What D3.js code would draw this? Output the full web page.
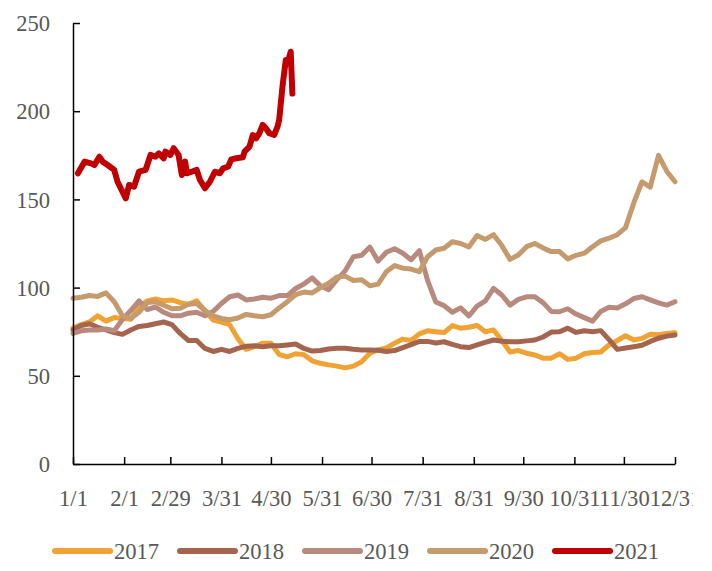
<!DOCTYPE html>
<html>
<head>
<meta charset="utf-8">
<script src="https://cdn.jsdelivr.net/npm/d3@7"></script>
<style>
    body{ margin:0; background:#fff; }
    svg{ display:block; }
</style>
</head>
<body>
<div id="chart"></div>
<script>
//Tick dates on the x axis (leap year so that 2/29 exists)
var tickLabels = ["1/1","2/1","2/29","3/31","4/30","5/31","6/30","7/31","8/31","9/30","10/31","11/30","12/31"];
var yTicks = [0, 50, 100, 150, 200, 250];
var years = ["2017","2018","2019","2020","2021"];
var colors = ["#F0A232","#A5644E","#B88A7E","#C59A6C","#C00000"];

//Older years: one reading every 5 days from 1/1
var gridDays = d3.range(0, 366, 5);

var values2017 = [77,79,80.5,84,81,83,82.5,82,89,92.5,93.5,92.5,93,91.5,90.5,92.5,87,81.6,80.5,79,
    71,65,66.5,68.5,68.5,62,60.8,62.5,62,58.5,57.1,56.2,55.5,54.5,55.5,58,62.8,64.7,65.8,68.5,
    70.8,70,73.8,75.5,75,74.5,78.5,77,77.5,78.5,75,76,70,63.5,64.3,62.8,61.8,60,60,62.5,
    59.3,60,62.5,63.2,63.5,67.5,70,72.7,70.3,71.2,73.5,73.3,74,74.4];

var values2018 = [76,78.5,79.5,77.5,76,74.5,73.5,76,78,78.5,79.5,80.5,79,74,70,70,65.5,63.8,65,63.8,
    65.5,66.8,67,66.5,67,67,67.5,68,65.5,64,64.3,65.2,65.6,65.6,65,64.6,64.6,64.5,63.8,64.3,
    66,67.7,69.5,69.5,68.6,69.3,67.8,66.5,66,67.5,69,70.3,69.6,69.3,69.3,69.8,70.3,72,74.8,75,
    77,74.6,75.5,75,75.6,70.5,65,65.8,66.5,67.3,69.5,71.3,72.5,73.1];

var values2019 = [74,75.5,76,76,76.5,75.5,82,87,92.5,87.5,89,86,84,84,85.5,86,84,86.5,91,94.8,
    95.8,93,93.5,94.5,94,95.5,95.5,99.5,102,105.5,101,98.8,104.5,109.5,117.5,118.3,123,115,120,122,
    119.5,115.8,121,104,91.8,89.8,86,88.5,84,89.5,92.5,99.5,95.8,90.1,93.3,94.8,94.8,91.5,86.5,86.3,
    88,85,83,81,86.5,88.8,88.5,90.8,93.8,94.8,93,91.3,90.1,92];

var values2020 = [94,94.5,95.5,95,97,92,84,82.5,86,91.5,92,90,88,88.3,90.5,91,87,84,82.5,81.8,
    82.8,84.8,84,83.5,84.6,88.5,92,96,97.5,97,100,102.5,106,106.5,104,104.5,101,102,109,112.5,
    111,110.5,109,117.5,121.3,122.3,126,125,123,129.5,127.3,130,123.8,116,118.5,123.2,125,122.5,120.4,120.4,
    116.3,118.3,119.5,123.2,126.5,128,130,134,148,160,157,175,166,160];

//2021 so far: trading day (days after 1/1) and value
var days2021 = [3,7,11,13,16,18,21,25,27,29,32,34,37,40,44,47,50,52,55,56,59,61,64,66,68,69,72,75,77,80,
    83,86,89,91,94,96,99,103,104,107,109,111,113,115,117,119,122,124,125,127,129,130,132,133];
var values2021 = [164.8,171.4,170.4,169.5,174.2,171.4,169.5,166.7,160,156.3,150.6,158.2,157.2,165.7,166.7,175.2,174.2,176.1,173.3,177.1,
    175.2,179,175.2,163.8,171.4,164.8,165.7,166.7,161,156.3,160,165.7,164.8,167.6,168.5,172.7,173.3,173.9,177.1,179.9,
    186.5,184.6,187.5,192.2,190.3,187.5,186.5,191.2,195,213.9,229,227,233.7,210];

var width = 712;
var height = 571;
var plotLeft = 73;
var plotRight = 675;
var plotTop = 23;
var plotBottom = 464;
var fontFamily = "'Liberation Serif', 'Times New Roman', serif";
var fontSize = "24px";
var textColor = "#595959";

function dayToDate( d ){
    return new Date(2020, 0, 1 + d);
}

function labelToDate( s ){
    var p = s.split("/");
    return new Date(2020, +p[0] - 1, +p[1]);
}

//Original font is a narrow serif: squeeze glyphs a little
function narrow( sel ){
    sel.each(function(){
        var w = this.getComputedTextLength();
        d3.select(this)
            .attr("textLength", w * 0.94)
            .attr("lengthAdjust","spacingAndGlyphs");
    });
}

var x = d3.scaleTime()
    .domain([new Date(2020,0,1), new Date(2020,11,31)])
    .range([plotLeft, plotRight]);

var y = d3.scaleLinear()
    .domain([0, 250])
    .range([plotBottom, plotTop]);

var series = [
    { name: years[0], days: gridDays, values: values2017, color: colors[0], width: 5 },
    { name: years[1], days: gridDays, values: values2018, color: colors[1], width: 5 },
    { name: years[2], days: gridDays, values: values2019, color: colors[2], width: 5 },
    { name: years[3], days: gridDays, values: values2020, color: colors[3], width: 5 },
    { name: years[4], days: days2021, values: values2021, color: colors[4], width: 6 }
];

var svg = d3.select("#chart")
    .append("svg")
    .attr("width", width)
    .attr("height", height);

//Labels on the right are cut off at this edge
svg.append("clipPath")
    .attr("id","labelClip")
    .append("rect")
    .attr("x",0)
    .attr("y",-10)
    .attr("width",693)
    .attr("height",80);

var line = d3.line()
    .x(function(p){ return x(dayToDate(p[0])); })
    .y(function(p){ return y(p[1]); });

//Draw lines, oldest year first
series.forEach(function( s ){
    var pts = s.values.map(function( v, i ){ return [s.days[i], v]; });
    svg.append("path")
        .datum(pts)
        .attr("d", line)
        .attr("fill","none")
        .attr("stroke", s.color)
        .attr("stroke-width", s.width)
        .attr("stroke-linejoin","round")
        .attr("stroke-linecap","round");
});

//Y axis, ticks pointing into the plot
var yAxis = svg.append("g")
    .attr("transform","translate(" + plotLeft + ",0)")
    .call(d3.axisLeft(y).tickValues(yTicks).tickSizeInner(-7).tickSizeOuter(0).tickPadding(23));

//X axis
var xAxis = svg.append("g")
    .attr("transform","translate(0," + plotBottom + ")")
    .attr("clip-path","url(#labelClip)")
    .call(d3.axisBottom(x)
        .tickValues(tickLabels.map(labelToDate))
        .tickFormat(function(d, i){ return tickLabels[i]; })
        .tickSizeInner(-7).tickSizeOuter(0).tickPadding(25));

[yAxis, xAxis].forEach(function( g ){
    g.select(".domain").attr("stroke","#000").attr("stroke-width",1.5);
    g.selectAll(".tick line").attr("stroke","#000").attr("stroke-width",1.5);
    g.selectAll(".tick text")
        .attr("fill", textColor)
        .style("font-family", fontFamily)
        .style("font-size", fontSize)
        .call(narrow);
});

//Legend
var legend = svg.append("g")
    .selectAll("g")
    .data(series)
    .enter()
    .append("g")
    .attr("transform", function(d, i){ return "translate(" + (55 + i * 125) + ",551)"; });

legend.append("line")
    .attr("x1",0)
    .attr("x2",55)
    .attr("stroke", function(d){ return d.color; })
    .attr("stroke-width",6)
    .attr("stroke-linecap","round");

legend.append("text")
    .attr("x",59)
    .attr("dy","0.33em")
    .attr("fill", textColor)
    .style("font-family", fontFamily)
    .style("font-size", fontSize)
    .text(function(d){ return d.name; })
    .call(narrow);
</script>
</body>
</html>
